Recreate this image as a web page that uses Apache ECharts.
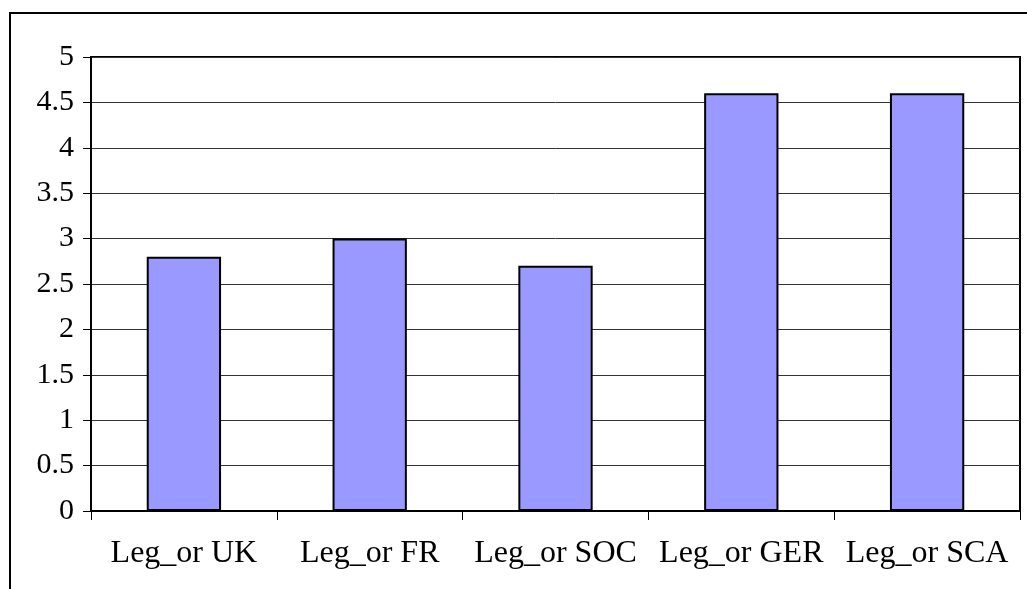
<!DOCTYPE html>
<html>
<head>
<meta charset="utf-8">
<script src="https://cdn.jsdelivr.net/npm/echarts@6/dist/echarts.min.js"></script>
<style>
  html, body { margin: 0; padding: 0; background: #fff; }
  #chart { width: 1027px; height: 589px; }
</style>
</head>
<body>
<div id="chart"></div>
<script>
// data
const categories = ['Leg_or UK', 'Leg_or FR', 'Leg_or SOC', 'Leg_or GER', 'Leg_or SCA']
const values = [2.8, 3.0, 2.7, 4.6, 4.6]

const FONT = "'Liberation Serif', 'Times New Roman', serif"

const chart = echarts.init(document.getElementById('chart'), null, { renderer: 'canvas' })

chart.setOption({
  animation: false,
  backgroundColor: '#fff',
  graphic: [
    {
      type: 'rect',
      shape: { x: 10, y: 13, width: 1040, height: 620 },
      style: { fill: 'none', stroke: '#000', lineWidth: 2 },
      silent: true,
      z: -1
    }
  ],
  grid: {
    left: 91, top: 57, right: 7, bottom: 78,
    show: true, borderColor: '#000', borderWidth: 2
  },
  xAxis: {
    type: 'category',
    data: categories,
    axisLine: { lineStyle: { color: '#000', width: 2 } },
    axisTick: { show: true, length: 9, lineStyle: { color: '#000', width: 1 } },
    axisLabel: { interval: 0, color: '#000', fontFamily: FONT, fontSize: 32, margin: 27 }
  },
  yAxis: {
    type: 'value',
    min: 0, max: 5, interval: 0.5,
    axisLine: { show: true, lineStyle: { color: '#000', width: 2 } },
    axisTick: { show: true, length: 8, lineStyle: { color: '#000', width: 1 } },
    axisLabel: { color: '#000', fontFamily: FONT, fontSize: 30, margin: 17 },
    splitLine: { lineStyle: { color: '#333', width: 1 } }
  },
  series: [
    {
      type: 'bar',
      data: values,
      barCategoryGap: '60%',
      itemStyle: { color: '#9999ff', borderColor: '#000', borderWidth: 2 }
    }
  ]
})
</script>
</body>
</html>
